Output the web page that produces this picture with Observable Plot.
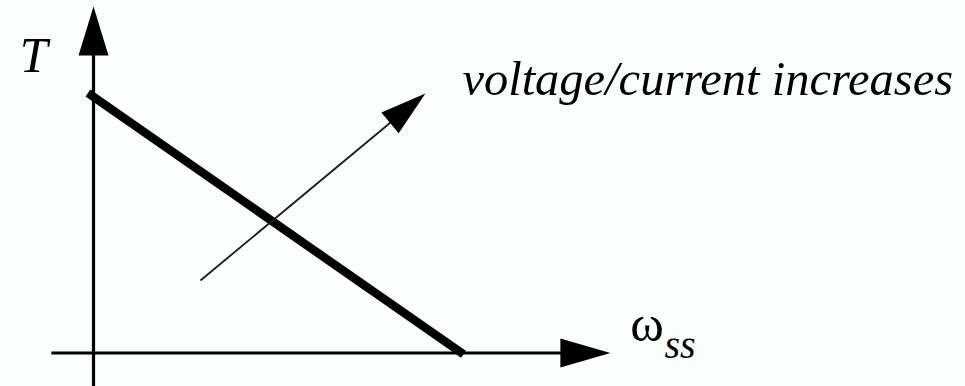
<!DOCTYPE html>
<html>
<head>
<meta charset="utf-8">
<script src="https://cdn.jsdelivr.net/npm/d3@7"></script>
<script src="https://cdn.jsdelivr.net/npm/@observablehq/plot@0.6"></script>
<style>
  html, body { margin: 0; padding: 0; background: #fbfefe; }
  #chart svg { display: block; }
  #chart svg text { font-family: "Liberation Serif", "Times New Roman", serif; }
</style>
</head>
<body>
<div id="chart"></div>
<script>
// Torque–speed characteristic (normalised units: stall torque = 1, no-load speed = 1)
const speed = [-0.015, 1.0];
const torque = [1.0, -0.005];

// Arrow showing the curve shifting outward
const shiftFrom = [0.289, 0.279];   // [speed, torque]
const shiftTo = [0.897, 0.998];

// Axis extents
const speedAxis = [-0.114, 1.397];
const torqueAxis = [-0.135, 1.333];

// Labels
const torqueLabel = "T";
const speedLabel = "ω";
const speedSubscript = "ss";
const shiftLabel = "voltage/current increases";

const W = 965, H = 386;
const xDomain = [-0.2514, 2.3568];
const yDomain = [-0.1288, 1.3558];

// Filled arrowhead whose tip sits on the anchor point, pointing up before rotation
function arrowHead(len, width) {
  return {
    draw(ctx) {
      ctx.moveTo(0, 0);
      ctx.lineTo(width / 2, len);
      ctx.lineTo(-width / 2, len);
      ctx.closePath();
    }
  };
}

// Direction of the shift arrow in screen space, from the same scales the plot uses
const sx = Plot.scale({x: {domain: xDomain, range: [0, W]}});
const sy = Plot.scale({y: {domain: yDomain, range: [H, 0]}});
const dx = sx.apply(shiftTo[0]) - sx.apply(shiftFrom[0]);
const dy = sy.apply(shiftTo[1]) - sy.apply(shiftFrom[1]);
const shiftAngle = Math.atan2(dx, -dy) * 180 / Math.PI;

const curve = speed.map((s, i) => ({speed: s, torque: torque[i]}));
const serif = "Liberation Serif";

const chart = Plot.plot({
  width: W,
  height: H,
  margin: 0,
  x: {domain: xDomain, axis: null},
  y: {domain: yDomain, axis: null},
  style: {background: "#fbfefe"},
  marks: [
    // torque axis
    Plot.arrow([0], {
      x1: 0, y1: torqueAxis[0], x2: 0, y2: torqueAxis[1],
      stroke: "black", strokeWidth: 3.2, headLength: 0, insetEnd: 30, strokeLinecap: "butt"
    }),
    Plot.dot([0], {x: 0, y: torqueAxis[1], symbol: arrowHead(49, 30), fill: "black", stroke: "none"}),
    // speed axis
    Plot.arrow([0], {
      x1: speedAxis[0], y1: 0, x2: speedAxis[1], y2: 0,
      stroke: "black", strokeWidth: 3.2, headLength: 0, insetEnd: 30, strokeLinecap: "butt"
    }),
    Plot.dot([0], {x: speedAxis[1], y: 0, symbol: arrowHead(50, 29), rotate: 90, fill: "black", stroke: "none"}),
    // characteristic line
    Plot.line(curve, {x: "speed", y: "torque", stroke: "black", strokeWidth: 8.5, strokeLinecap: "butt"}),
    // shift arrow
    Plot.arrow([0], {
      x1: shiftFrom[0], y1: shiftFrom[1], x2: shiftTo[0], y2: shiftTo[1],
      stroke: "#1a1a1a", strokeWidth: 1.8, headLength: 0, insetEnd: 25, strokeLinecap: "butt"
    }),
    Plot.dot([0], {x: shiftTo[0], y: shiftTo[1], symbol: arrowHead(46, 27), rotate: shiftAngle, fill: "black", stroke: "none"}),
    // labels
    Plot.text([torqueLabel], {
      x: -0.162, y: 1.079, text: d => d, textAnchor: "middle", lineAnchor: "bottom",
      fontFamily: serif, fontStyle: "italic", fontSize: 50, fill: "black"
    }),
    Plot.text([shiftLabel], {
      x: 0.997, y: 0.994, text: d => d, textAnchor: "start", lineAnchor: "bottom",
      fontFamily: serif, fontStyle: "italic", fontSize: 48.5, fill: "black"
    }),
    Plot.text([speedLabel], {
      x: 1.451, y: 0.048, text: d => d, textAnchor: "start", lineAnchor: "bottom",
      fontFamily: serif, fontSize: 51, fill: "black"
    }),
    Plot.text([speedSubscript], {
      x: 1.543, y: -0.018, text: d => d, textAnchor: "start", lineAnchor: "bottom",
      fontFamily: serif, fontStyle: "italic", fontSize: 40, fill: "black"
    })
  ]
});

document.getElementById("chart").appendChild(chart);
</script>
</body>
</html>
